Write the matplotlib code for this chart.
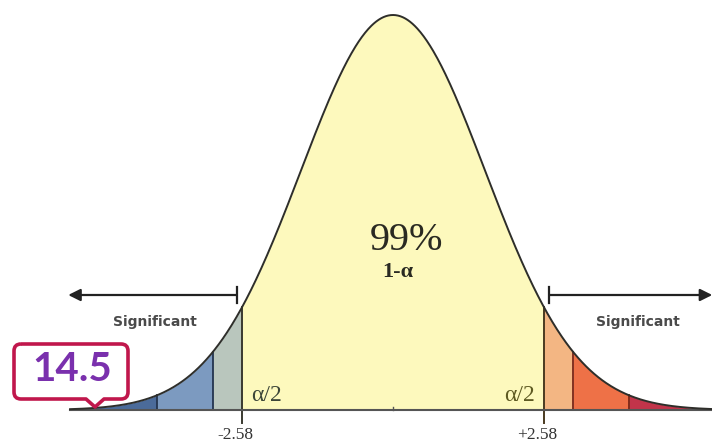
import matplotlib.pyplot as plt
import numpy as np
from matplotlib.path import Path
from matplotlib.patches import PathPatch

# drawing units: z of the sketched bell (peak = 1)
crit_pos = 1.64                      # where the critical lines sit on the sketch
crit_labels = ["-2.58", "+2.58"]
tail_edges = [1.64, 1.96, 2.57]      # band edges in each tail
left_colors = ["#b9c6bd", "#7c9ac0", "#4b6b9a"]    # near -> far
right_colors = ["#f3b683", "#ee7147", "#c2344a"]   # near -> far
left_line_colors = ["#3c4a3c", "#24344f", "#24344f"]
right_line_colors = ["#5a4a1c", "#7a2618", "#7a2618"]
center_yellow = "#fdf9bd"
conf_text = "99%"
conf_sub = "1-α"
tail_text = "Significant"
half_alpha = "α/2"
badge_text = "14.5"

z_left, z_right = -3.51, 3.47

W, H = 712, 444
fig = plt.figure(figsize=(W / 100, H / 100), dpi=100)
ax = fig.add_axes([0, 0, 1, 1])
px = 92.0      # pixels per unit of z
peak_px = 395.0
cx, base = 393.0, 410.0
ax.set_xlim(-cx / px, (W - cx) / px)
ax.set_ylim(-(H - base) / peak_px, base / peak_px)
ax.axis("off")


def bell(z):
    return np.exp(-0.5 * z ** 2)


# centre region
zz = np.linspace(-crit_pos, crit_pos, 400)
ax.fill_between(zz, 0, bell(zz), color=center_yellow, lw=0)

# tails
edges = tail_edges + [abs(z_left)]
for i in range(3):
    a, b = edges[i], edges[i + 1]
    zl = np.linspace(-b, -a, 100)
    ax.fill_between(zl, 0, bell(zl), color=left_colors[i], lw=0)
    b2 = min(b, z_right)
    zr = np.linspace(a, b2, 100)
    ax.fill_between(zr, 0, bell(zr), color=right_colors[i], lw=0)

# divider lines in the tails
for i, e in enumerate(tail_edges[1:]):
    ax.plot([-e, -e], [0, bell(e)], color=left_line_colors[i + 1], lw=1.3)
    ax.plot([e, e], [0, bell(e)], color=right_line_colors[i + 1], lw=1.3)

# critical lines, going a bit under the baseline
tick_len = 13 / peak_px
ax.plot([-crit_pos] * 2, [-tick_len, bell(crit_pos)], color="#3a3a30", lw=1.4)
ax.plot([crit_pos] * 2, [-tick_len, bell(crit_pos)], color="#4a3a20", lw=1.4)

# baseline and curve
ax.plot([z_left, z_right], [0, 0], color="#555555", lw=1.5)
ax.plot([0, 0], [0, 3 / peak_px], color="#555555", lw=1.0)
zc = np.linspace(z_left, z_right, 800)
ax.plot(zc, bell(zc), color="#2e2e2a", lw=1.4)

# critical value labels
for s, lab in zip([-1, 1], crit_labels):
    ax.text(s * crit_pos - 7 / px, -25 / peak_px, lab, ha="center", va="center",
            fontsize=12.5, color="#333333", family="Liberation Serif")

# alpha/2 labels
ax.text(-crit_pos + 24 / px, 15 / peak_px, half_alpha, ha="center", va="center",
        fontsize=17, color="#3d4638", family="Liberation Serif")
ax.text(crit_pos - 24 / px, 15 / peak_px, half_alpha, ha="center", va="center",
        fontsize=17, color="#5e5a22", family="Liberation Serif")

# centre texts
ax.text(13 / px, 170 / peak_px, conf_text, ha="center", va="center",
        fontsize=29, color="#2a2a22", family="Liberation Serif")
ax.text(5 / px, 138 / peak_px, conf_sub, ha="center", va="center",
        fontsize=16, color="#2a2a22", family="Liberation Serif", weight="bold")

# arrows for the significant regions
ya = 115 / peak_px
bar = 8 / peak_px
ax.annotate("", xy=(-3.53, ya), xytext=(-1.70, ya),
            arrowprops=dict(arrowstyle="-|>", color="#222222", lw=1.6,
                            mutation_scale=18, shrinkA=0, shrinkB=0))
ax.plot([-1.70, -1.70], [ya - bar, ya + bar], color="#222222", lw=1.6)
ax.annotate("", xy=(3.47, ya), xytext=(1.70, ya),
            arrowprops=dict(arrowstyle="-|>", color="#222222", lw=1.6,
                            mutation_scale=18, shrinkA=0, shrinkB=0))
ax.plot([1.70, 1.70], [ya - bar, ya + bar], color="#222222", lw=1.6)

ax.text(-2.59, 88 / peak_px, tail_text, ha="center", va="center",
        fontsize=10, weight="bold", color="#4a4a4a", family="DejaVu Sans")
ax.text(2.66, 88 / peak_px, tail_text, ha="center", va="center",
        fontsize=10, weight="bold", color="#4a4a4a", family="DejaVu Sans")

# speech bubble badge, in pixel coords
ov = fig.add_axes([0, 0, 1, 1])
ov.set_xlim(0, W)
ov.set_ylim(H, 0)
ov.axis("off")
x0, x1, y0, y1, r = 14, 128, 344, 399, 7
verts = [(x0 + r, y0), (x1 - r, y0), (x1, y0), (x1, y0 + r),
         (x1, y1 - r), (x1, y1), (x1 - r, y1),
         (104, y1), (95, 407), (86, y1),
         (x0 + r, y1), (x0, y1), (x0, y1 - r),
         (x0, y0 + r), (x0, y0), (x0 + r, y0)]
codes = [Path.MOVETO, Path.LINETO, Path.CURVE3, Path.CURVE3,
         Path.LINETO, Path.CURVE3, Path.CURVE3,
         Path.LINETO, Path.LINETO, Path.LINETO,
         Path.LINETO, Path.CURVE3, Path.CURVE3,
         Path.LINETO, Path.CURVE3, Path.CURVE3]
ov.add_patch(PathPatch(Path(verts, codes), facecolor="white",
                       edgecolor="#c0174c", lw=2.6, joinstyle="round"))
ov.text(72, 369, badge_text, ha="center", va="center", fontsize=29,
        weight="bold", color="#7a30ad", family="Lato")

fig.savefig("out.png", dpi=100)
